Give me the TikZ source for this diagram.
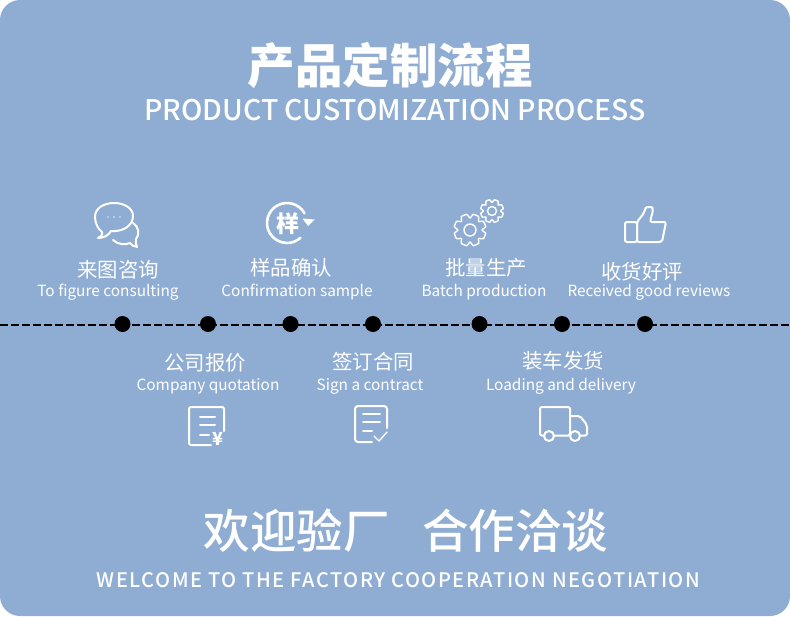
\documentclass[tikz,border=0pt]{standalone}
\usepackage{fontspec}
\setmainfont{Noto Sans CJK SC}
\newfontfamily\medfont{Noto Sans CJK SC Medium}
\usetikzlibrary{arrows.meta,positioning}
\definecolor{panelblue}{HTML}{8FADD3}
\begin{document}
\begin{tikzpicture}[
  x=1pt,y=-1pt,
  cnlabel/.style={text=white,inner sep=0pt,font=\fontsize{20.4}{20}\selectfont},
  enlabel/.style={text=white,inner sep=0pt,font=\fontsize{15.4}{16}\selectfont},
  dot/.style={circle,fill=black,inner sep=0pt,minimum size=16pt},
  icon/.style={draw=white,line width=2pt,line join=round,line cap=round}
]
  \useasboundingbox (0,0) rectangle (790,616);
  \fill[white] (0,0) rectangle (790,616);
  \fill[panelblue,rounded corners=20pt] (0,0) rectangle (790,616);

  % headings
  \node[text=white,inner sep=0pt,font=\fontsize{47.5}{48}\bfseries\selectfont] (title) at (390,65) {产品定制流程};
  \node[text=white,inner sep=0pt,font=\medfont\fontsize{28.4}{30}\selectfont] (subtitle) at (395,110) {PRODUCT CUSTOMIZATION PROCESS};
  \node[text=white,inner sep=0pt,font=\medfont\fontsize{46.5}{47}\selectfont] (welcome) at (406,531) {欢迎验厂\hspace{33pt}合作洽谈};
  \node[text=white,inner sep=0pt,font=\medfont\fontsize{20}{20}\selectfont] (welcomeen) at (398.5,580.5) {\addfontfeature{LetterSpace=7.5}WELCOME TO THE FACTORY COOPERATION NEGOTIATION};

  % timeline
  \coordinate (lineL) at (0,325);
  \coordinate (lineR) at (790,325);
  \draw[black,line width=2pt,dash pattern=on 8pt off 3pt] (lineL) -- (lineR);
  \foreach \name/\xpos in {a/122.5,b/208,c/290.5,d/373,e/479.5,f/562,g/645}
    \node[dot] (dot\name) at (\xpos,324) {};

  % upper labels
  \node[cnlabel] (consultcn) at (118,270) {来图咨询};
  \node[enlabel] (consulten) at (108,292.5) {To figure consulting};
  \node[cnlabel] (samplecn) at (291,268) {样品确认};
  \node[enlabel] (sampleen) at (297,292.5) {Confirmation sample};
  \node[cnlabel] (batchcn) at (486,268) {批量生产};
  \node[enlabel] (batchen) at (484,292.5) {Batch production};
  \node[cnlabel] (reviewcn) at (642,272) {收货好评};
  \node[enlabel] (reviewen) at (649,292.5) {Received good reviews};

  % lower labels
  \node[cnlabel] (quotecn) at (205,363) {公司报价};
  \node[enlabel] (quoteen) at (208,386.5) {Company quotation};
  \node[cnlabel] (signcn) at (373,362) {签订合同};
  \node[enlabel] (signen) at (370,386.5) {Sign a contract};
  \node[cnlabel] (loadcn) at (563,361) {装车发货};
  \node[enlabel] (loaden) at (561,386.5) {Loading and delivery};

  % chat icon
  \draw[icon] (102,232) .. controls (103,236) and (100,237) .. (98,238)
    .. controls (103,238) and (108,236) .. (111,231)
    .. controls (124,232) and (133,225) .. (133,216)
    .. controls (133,208) and (124,203) .. (114,203)
    .. controls (104,203) and (95,208) .. (95,217)
    .. controls (95,223) and (98,229) .. (102,232);
  \draw[icon] (113,240) .. controls (118,245) and (126,245) .. (130,243)
    .. controls (132,245) and (134,247) .. (137,247)
    .. controls (136,244) and (135,241) .. (136,239)
    .. controls (140,234) and (139,227) .. (133,223);
  \foreach \xpos in {108,114,120}
    \fill[white,opacity=.7] (\xpos,217) circle (.8pt);

  % sample icon
  \draw[icon,line width=2.6pt] (304.5,213.3) arc[start angle=-29,end angle=-312,radius=20];
  \fill[white] (302.5,218.5) -- (314.5,219.5) -- (308,226) -- cycle;
  \node[text=white,inner sep=0pt,font=\fontsize{23}{23}\bfseries\selectfont] (sampleglyph) at (288,224) {样};

  % gear icons
  \foreach \cx/\cy/\rout/\rin/\rhole in {470/230/16/12/6,492/211/11.5/8.5/4.5}{
    \draw[icon,line width=1.4pt] plot[smooth cycle,tension=.25] coordinates {
      (\cx+\rin*cos 0,\cy+\rin*sin 0)
      (\cx+\rout*cos 12,\cy+\rout*sin 12)
      (\cx+\rout*cos 33,\cy+\rout*sin 33)
      (\cx+\rin*cos 45,\cy+\rin*sin 45)
      (\cx+\rout*cos 57,\cy+\rout*sin 57)
      (\cx+\rout*cos 78,\cy+\rout*sin 78)
      (\cx+\rin*cos 90,\cy+\rin*sin 90)
      (\cx+\rout*cos 102,\cy+\rout*sin 102)
      (\cx+\rout*cos 123,\cy+\rout*sin 123)
      (\cx+\rin*cos 135,\cy+\rin*sin 135)
      (\cx+\rout*cos 147,\cy+\rout*sin 147)
      (\cx+\rout*cos 168,\cy+\rout*sin 168)
      (\cx+\rin*cos 180,\cy+\rin*sin 180)
      (\cx+\rout*cos 192,\cy+\rout*sin 192)
      (\cx+\rout*cos 213,\cy+\rout*sin 213)
      (\cx+\rin*cos 225,\cy+\rin*sin 225)
      (\cx+\rout*cos 237,\cy+\rout*sin 237)
      (\cx+\rout*cos 258,\cy+\rout*sin 258)
      (\cx+\rin*cos 270,\cy+\rin*sin 270)
      (\cx+\rout*cos 282,\cy+\rout*sin 282)
      (\cx+\rout*cos 303,\cy+\rout*sin 303)
      (\cx+\rin*cos 315,\cy+\rin*sin 315)
      (\cx+\rout*cos 327,\cy+\rout*sin 327)
      (\cx+\rout*cos 348,\cy+\rout*sin 348)};
    \draw[icon,line width=1.4pt] (\cx,\cy) circle (\rhole);
  }

  % thumb icon
  \draw[icon,rounded corners=2pt] (637,222) rectangle (625,242);
  \draw[icon,rounded corners=2pt] (637,242) -- (637,222) -- (644,213)
    .. controls (645,209) and (646,207) .. (649,207)
    .. controls (653,207) and (653,211) .. (652,214) -- (650,222) -- (666,222) -- (662,242) -- cycle;

  % quotation icon
  \draw[icon,rounded corners=2pt] (224,431) -- (224,407) -- (189,407) -- (189,445) -- (211,445);
  \foreach \ypos/\xend in {417/215,425/215,435/209}
    \draw[icon] (200,\ypos) -- (\xend,\ypos);
  \node[text=white,inner sep=0pt,font=\fontsize{18}{18}\bfseries\selectfont] (yen) at (218,439) {¥};

  % contract icon
  \draw[icon,rounded corners=3pt] (387,428) -- (387,406) -- (355,406) -- (355,442) -- (372,442);
  \foreach \ypos in {414,422}
    \draw[icon] (363,\ypos) -- (380,\ypos);
  \draw[icon] (363,431) -- (372,431);
  \draw[icon,line width=1.4pt] (374,436) -- (379,441) -- (387,432);

  % truck icon
  \draw[icon,rounded corners=2pt] (544,435.5) -- (540,435.5) -- (540,407) -- (570,407) -- (570,435.5) -- (554,435.5);
  \draw[icon,rounded corners=2pt] (570,416) -- (580,416) -- (587,425) -- (587,435.5) -- (580,435.5);
  \draw[icon] (549,436) circle (5);
  \draw[icon] (575,436) circle (5);
\end{tikzpicture}
\end{document}
